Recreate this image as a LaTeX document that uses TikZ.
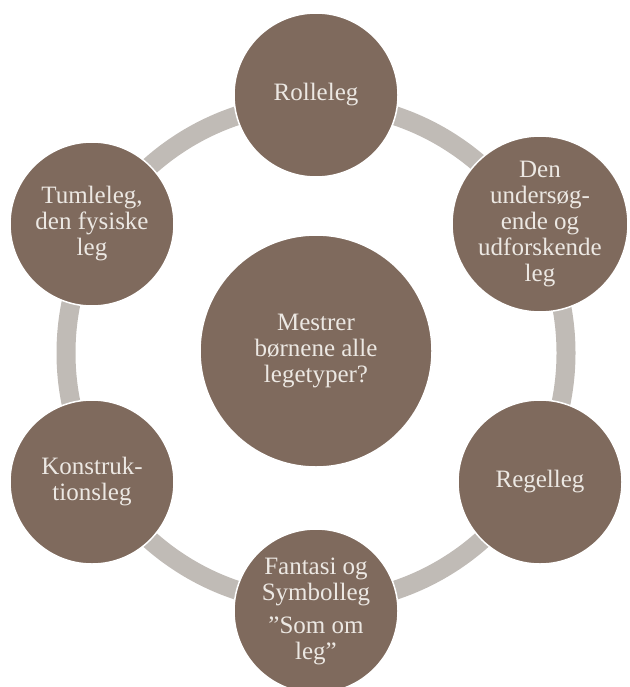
\documentclass[tikz,border=0pt]{standalone}
\usepackage{fontspec}
\setmainfont{Liberation Serif}
\definecolor{nodebrown}{RGB}{127,106,93}
\definecolor{ringgrey}{RGB}{192,187,182}
\definecolor{txtlight}{RGB}{236,232,227}
\begin{document}
\begin{tikzpicture}[x=1pt,y=-1pt,
  leaf/.style={circle, fill=nodebrown, draw=white, line width=1.5pt,
    minimum size=164pt, inner sep=0pt, text=txtlight,
    font=\fontsize{25}{26}\selectfont, align=center},
  hub/.style={leaf, minimum size=232pt},
  ring/.style={draw=ringgrey, line width=19pt}]
\useasboundingbox (0,0) rectangle (629,687);
\coordinate (c) at (316,353);
\draw[ring] (c) circle[radius=250pt];
\node[hub] (hub) at (316,351) {Mestrer\\børnene alle\\legetyper?};
\node[leaf] (rolle) at (316,95) {Rolleleg};
\node[leaf] (under) at (540,224) {Den\\undersøg-\\ende og\\udforskende\\leg};
\node[leaf] (regel) at (540,482) {Regelleg};
\node[leaf] (fanta) at (316,611) {Fantasi og\\Symbolleg\\[7pt]”Som om\\leg”};
\node[leaf] (konst) at (92,482) {Konstruk-\\tionsleg};
\node[leaf] (tumle) at (92,224) {Tumleleg,\\den fysiske\\leg};
\end{tikzpicture}
\end{document}
